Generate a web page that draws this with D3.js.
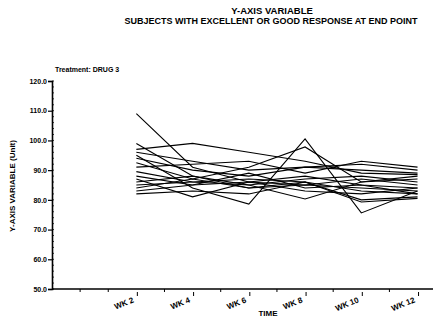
<!DOCTYPE html>
<html>
<head>
<meta charset="utf-8">
<script src="https://cdn.jsdelivr.net/npm/d3@7"></script>
<style>
	body { margin: 0; background: #fff; }
	svg text { font-family: "Liberation Sans Narrow", "Liberation Sans", Arial, sans-serif; font-weight: bold; fill: #000; }
</style>
</head>
<body>
<svg id="chart" width="433" height="323"></svg>
<script>
// weeks on the x axis
var weeks = [2, 4, 6, 8, 10, 12];
var weekLabels = ["WK 2", "WK 4", "WK 6", "WK 8", "WK 10", "WK 12"];
var yTicks = [50, 60, 70, 80, 90, 100, 110, 120];

// one row per subject, values at WK 2 .. WK 12
var subj01 = [109.0, 91.0, 86.0, 88.0, 85.0, 84.0];
var subj02 = [99.0, 88.0, 84.0, 86.0, 83.0, 82.0];
var subj03 = [97.0, 99.0, 96.0, 93.0, 89.0, 88.5];
var subj04 = [96.0, 93.0, 90.0, 91.0, 92.0, 90.0];
var subj05 = [95.0, 84.0, 78.6, 100.5, 75.6, 83.0];
var subj06 = [94.0, 90.0, 88.0, 91.0, 90.0, 89.0];
var subj07 = [92.5, 87.0, 91.0, 97.8, 86.0, 87.0];
var subj08 = [91.0, 92.0, 93.0, 89.0, 93.0, 91.0];
var subj09 = [89.5, 86.0, 85.0, 87.0, 88.0, 86.0];
var subj10 = [88.0, 85.0, 86.0, 85.0, 87.0, 85.0];
var subj11 = [87.0, 81.0, 86.0, 83.0, 82.0, 84.0];
var subj12 = [86.0, 88.0, 85.0, 80.3, 86.0, 88.0];
var subj13 = [85.0, 86.0, 87.0, 86.0, 79.3, 80.5];
var subj14 = [84.0, 87.0, 84.0, 85.0, 84.0, 83.0];
var subj15 = [83.0, 85.0, 89.0, 84.0, 85.0, 82.0];
var subj16 = [82.0, 83.0, 82.0, 86.0, 80.0, 81.0];

var subjects = [subj01, subj02, subj03, subj04, subj05, subj06, subj07, subj08,
	subj09, subj10, subj11, subj12, subj13, subj14, subj15, subj16];

var svg = d3.select("#chart");

var x = d3.scaleLinear().domain([-1, 12.55]).range([52, 433]);
var y = d3.scaleLinear().domain([50, 120]).range([289, 81]);

// titles
svg.append("text")
	.attr("x", 272).attr("y", 14)
	.attr("text-anchor", "middle")
	.style("font-size", "9.5px")
	.text("Y-AXIS VARIABLE");

svg.append("text")
	.attr("x", 271).attr("y", 24)
	.attr("text-anchor", "middle")
	.style("font-size", "9px")
	.text("SUBJECTS WITH EXCELLENT OR GOOD RESPONSE AT END POINT");

svg.append("text")
	.attr("x", 55).attr("y", 72)
	.style("font-size", "7px")
	.text("Treatment: DRUG 3");

// y axis
var yAxis = d3.axisLeft(y)
	.tickValues(yTicks)
	.tickSize(4)
	.tickFormat(d3.format(".1f"));

var gy = svg.append("g")
	.attr("transform", "translate(52,0)")
	.call(yAxis);
gy.select(".domain").attr("stroke", "#000").attr("stroke-width", 1.6);
gy.selectAll(".tick line").attr("stroke", "#000").attr("stroke-width", 1.2);
gy.selectAll(".tick text")
	.attr("x", -5)
	.style("font-size", "7px")
	.style("font-family", "'Liberation Sans Narrow', 'Liberation Sans', sans-serif");

// minor ticks on y
svg.append("g").selectAll("line")
	.data(d3.range(50, 120.1, 2))
	.enter()
	.append("line")
	.attr("x1", 52).attr("x2", 54)
	.attr("y1", function(d) { return y(d); })
	.attr("y2", function(d) { return y(d); })
	.attr("stroke", "#000")
	.attr("stroke-width", 0.8);

svg.append("text")
	.attr("transform", "translate(15,186) rotate(-90)")
	.attr("text-anchor", "middle")
	.style("font-size", "8px")
	.text("Y-AXIS VARIABLE (Unit)");

// x axis
svg.append("line")
	.attr("x1", 52).attr("x2", 433)
	.attr("y1", y(50)).attr("y2", y(50))
	.attr("stroke", "#000")
	.attr("stroke-width", 1.6);

// ticks between the weeks
svg.append("g").selectAll("line")
	.data([0, 1, 3, 5, 7, 9, 11])
	.enter()
	.append("line")
	.attr("x1", function(d) { return x(d); })
	.attr("x2", function(d) { return x(d); })
	.attr("y1", y(50)).attr("y2", y(50) + 3)
	.attr("stroke", "#000")
	.attr("stroke-width", 1);

// ticks at the weeks
svg.append("g").selectAll("line")
	.data(weeks)
	.enter()
	.append("line")
	.attr("x1", function(d) { return x(d) + 1; })
	.attr("x2", function(d) { return x(d) + 1; })
	.attr("y1", y(50) + 3).attr("y2", y(50) + 7)
	.attr("stroke", "#000")
	.attr("stroke-width", 1);

svg.append("g").selectAll("text")
	.data(weeks)
	.enter()
	.append("text")
	.attr("text-anchor", "end")
	.attr("transform", function(d) {
		return "translate(" + (x(d) - 2) + "," + (y(50) + 13) + ") rotate(-22)";
	})
	.style("font-size", "8px")
	.text(function(d, i) { return weekLabels[i]; });

svg.append("text")
	.attr("x", 268).attr("y", 316)
	.attr("text-anchor", "middle")
	.style("font-size", "8px")
	.text("TIME");

// subject lines
var line = d3.line()
	.x(function(d, i) { return x(weeks[i]); })
	.y(function(d) { return y(d); });

svg.append("g").selectAll("path")
	.data(subjects)
	.enter()
	.append("path")
	.attr("d", line)
	.attr("fill", "none")
	.attr("stroke", "#000")
	.attr("stroke-width", 1.1);
</script>
</body>
</html>
